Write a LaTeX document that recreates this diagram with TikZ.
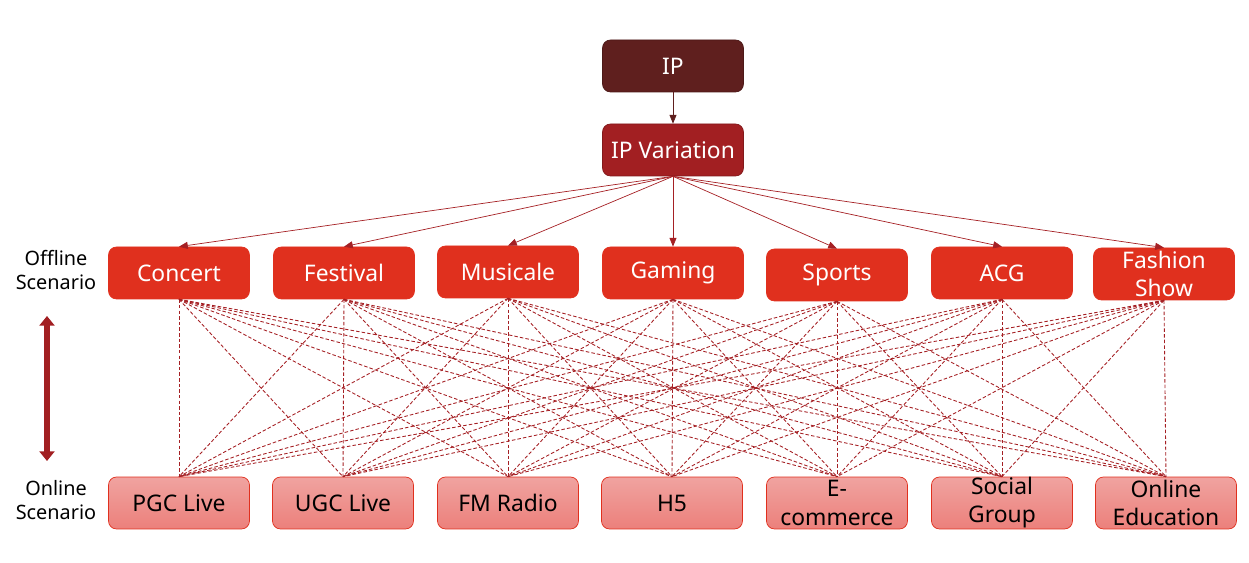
\documentclass[tikz,border=0pt]{standalone}
\usepackage{fontspec}
\setmainfont{Noto Sans}
\usetikzlibrary{arrows.meta}

\definecolor{ipbrown}{HTML}{5F1F1E}
\definecolor{varred}{HTML}{A21F22}
\definecolor{offred}{HTML}{E0301E}
\definecolor{linered}{HTML}{A52024}
\definecolor{ontop}{HTML}{F0A3A0}
\definecolor{onbot}{HTML}{EC807B}

\tikzset{
  box/.style={rounded corners=0.16cm, minimum width=2.82cm, minimum height=1.04cm,
    inner sep=0pt, align=center, font=\fontsize{13}{16}\selectfont},
  offbox/.style={box, fill=offred, draw=offred, text=white},
  onbox/.style={box, top color=ontop, bottom color=onbot, draw=offred, text=black},
  feed/.style={-{Triangle[length=5pt,width=4pt]}, linered, thin},
  link/.style={linered, line width=0.5pt, dash pattern=on 2pt off 1.2pt},
  side/.style={align=center, font=\fontsize{11.3}{14}\selectfont}
}

\begin{document}
\begin{tikzpicture}[x=0.02cm,y=-0.02cm]
  \useasboundingbox (0,0) rectangle (1249,563);
  % top of the tree
  \node[box, fill=ipbrown, draw=ipbrown!80!black, text=white] (IP) at (673,66) {IP};
  \node[box, fill=varred, draw=varred!80!black, text=white] (var) at (673,150) {IP Variation};
  \draw[feed, ipbrown] (IP) -- (var);
  % offline scenarios
  \foreach \x/\y/\i/\txt in {179/273/1/Concert, 344/273/2/Festival, 508/272/3/Musicale,
      673/273/4/Gaming, 837/275/5/Sports, 1002/273/6/ACG, 1164/274/7/{Fashion\\Show}}
    \node[offbox] (off\i) at (\x,\y) {\txt};
  % online scenarios
  \foreach \x/\i/\txt in {179/1/PGC Live, 343/2/UGC Live, 508/3/FM Radio, 672/4/H5,
      837/5/{E-\\commerce}, 1002/6/{Social\\Group}, 1166/7/{Online\\Education}}
    \node[onbox] (on\i) at (\x,503) {\txt};
  \foreach \i in {1,...,7}
    \draw[feed] (var.south) -- (off\i.north);
  \foreach \i in {1,...,7}
    \foreach \j in {1,...,7}
      \draw[link] (off\i.south) -- (on\j.north);
  % side labels
  \node[side] (offline) at (56,270) {Offline\\Scenario};
  \node[side] (online) at (56,500) {Online\\Scenario};
  \coordinate (up) at (47,316);
  \coordinate (down) at (47,461);
  \draw[varred, line width=3.5pt, {Triangle[length=5.5pt,width=8.5pt]}-{Triangle[length=5.5pt,width=8.5pt]}] (up) -- (down);
\end{tikzpicture}
\end{document}
